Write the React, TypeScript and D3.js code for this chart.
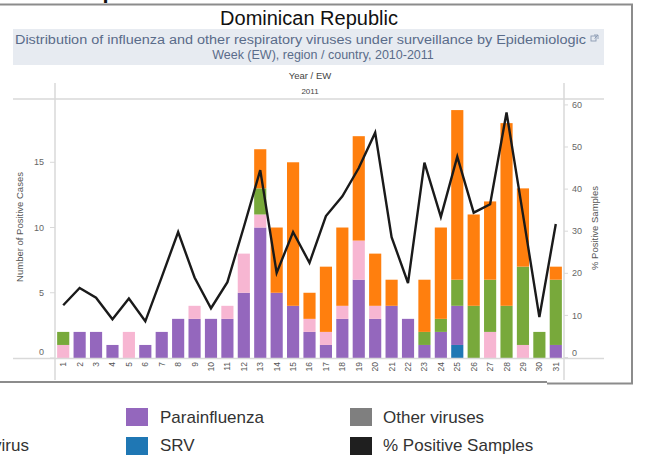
import React from 'react';
import * as d3 from 'd3';

const weeks = ['1','2','3','4','5','6','7','8','9','10','11','12','13','14','15','16','17','18','19','20','21','22','23','24','25','26','27','28','29','30','31'];
const srv =           [0,0,0,0,0,0,0,0,0,0,0,0,0,0,0,0,0,0,0,0,0,0,0,0,1,0,0,0,0,0,0];
const parainfluenza = [0,2,2,1,0,1,2,3,3,3,3,5,10,5,4,2,1,3,6,3,4,3,1,2,3,0,0,0,0,0,1];
const influenzaB =    [1,0,0,0,2,0,0,0,1,0,1,3,1,0,0,1,1,1,3,1,0,0,0,0,0,0,2,0,1,0,0];
const adenovirus =    [1,0,0,0,0,0,0,0,0,0,0,0,2,0,0,0,0,0,0,0,0,0,1,1,2,4,4,4,6,2,5];
const influenzaA =    [0,0,0,0,0,0,0,0,0,0,0,0,3,5,11,2,5,6,8,4,2,0,4,7,13,7,6,14,6,0,1];
const pctPositive = [12.4,16.5,14.2,9.1,14.0,8.6,19.1,29.8,19,11.7,17.9,31,44.5,20.1,29.8,22.5,33.6,38.3,45,53.4,28.6,17.7,46.3,33.4,47.7,34.4,36.4,58.2,34,9.6,31.7];

const leftTicks = [0,5,10,15];
const rightTicks = [0,10,20,30,40,50,60];

const seriesNames = ['SRV','Parainfluenza','Influenza B','Adenovirus','Influenza A'];
const seriesColors = ['#1f77b4','#9467bd','#f7b6d2','#78a93b','#ff7f0e'];

export default function App() {
  const x = d3.scaleBand<string>().domain(weeks).range([55, 564]).paddingInner(0.26).paddingOuter(0.13);
  const yL = d3.scaleLinear().domain([0, 19.85]).range([358, 99]);
  const yR = d3.scaleLinear().domain([0, 61.4]).range([357.5, 99]);

  const table = weeks.map((w, i) => ({
    week: w,
    'SRV': srv[i],
    'Parainfluenza': parainfluenza[i],
    'Influenza B': influenzaB[i],
    'Adenovirus': adenovirus[i],
    'Influenza A': influenzaA[i],
  }));
  const stacked = d3.stack<any>().keys(seriesNames)(table);

  const line = d3.line<number>()
    .x((_, i) => (x(weeks[i]) as number) + x.bandwidth() / 2)
    .y(d => yR(d));

  const gridColor = '#d9d9d9';
  const font = 'Liberation Sans, Arial, sans-serif';

  return (
    <div style={{ position: 'absolute', left: 0, top: 0 }}>
      <svg width={658} height={457} style={{ display: 'block', fontFamily: font }}>
        <rect x={0} y={0} width={658} height={457} fill="#ffffff" />
        {/* cut-off heading fragment */}
        <text x={101.8} y={-3.6} fontSize={34} fill="#111">p</text>
        {/* frame */}
        <line x1={0} y1={4.5} x2={633} y2={4.5} stroke="#8c8c8c" strokeWidth={2} />
        <line x1={632} y1={4} x2={632} y2={384} stroke="#8c8c8c" strokeWidth={2} />
        <line x1={0} y1={382} x2={547} y2={382} stroke="#8c8c8c" strokeWidth={2} />
        <line x1={547} y1={383.5} x2={633} y2={383.5} stroke="#8c8c8c" strokeWidth={2} />

        <text x={309} y={25} fontSize={20} textAnchor="middle" fill="#111">Dominican Republic</text>

        {/* subtitle band */}
        <rect x={13} y={29} width={591} height={36} fill="#e7ebf1" />
        <text x={15} y={44} fontSize={12.5} fill="#5a6c8a" textLength={571} lengthAdjust="spacingAndGlyphs">Distribution of influenza and other respiratory viruses under surveillance by Epidemiologic</text>
        <g stroke="#8a9ab2" strokeWidth={0.9} fill="none">
          <rect x={591} y={36} width={5} height={5} />
          <path d="M594,35 L598,35 L598,39 M598,35 L594.5,38.5" />
        </g>
        <text x={323} y={59} fontSize={12.5} textAnchor="middle" fill="#5a6c8a">Week (EW), region / country, 2010-2011</text>

        <text x={310} y={79} fontSize={9.5} textAnchor="middle" fill="#444">Year  /  EW</text>
        <text x={310} y={94} fontSize={8} textAnchor="middle" fill="#444">2011</text>

        {/* frame lines of the chart */}
        <line x1={13} y1={99} x2={604} y2={99} stroke={gridColor} strokeWidth={1.5} />
        <line x1={55} y1={83} x2={55} y2={380} stroke={gridColor} strokeWidth={1.5} />
        <line x1={564} y1={83} x2={564} y2={380} stroke={gridColor} strokeWidth={1.5} />

        {/* bars */}
        {stacked.map((layer, si) => (
          <g key={seriesNames[si]} fill={seriesColors[si]}>
            {layer.map((d, i) => (d[1] - d[0] > 0 ? (
              <rect key={i} x={x(weeks[i])} y={yL(d[1])} width={x.bandwidth()} height={yL(d[0]) - yL(d[1])} />
            ) : null))}
          </g>
        ))}

        <line x1={13} y1={358.5} x2={604} y2={358.5} stroke={gridColor} strokeWidth={1.5} />

        {/* line */}
        <path d={line(pctPositive) || ''} fill="none" stroke="#1a1a1a" strokeWidth={2.4} strokeLinejoin="miter" />

        {/* left axis */}
        {leftTicks.map(t => (
          <g key={'l' + t}>
            <line x1={50} x2={55} y1={yL(t)} y2={yL(t)} stroke={gridColor} />
            <text x={44} y={t === 0 ? yL(t) - 6 : yL(t)} dy="0.35em" fontSize={9} textAnchor="end" fill="#666">{t}</text>
          </g>
        ))}
        <text transform="translate(23,227) rotate(-90)" fontSize={9.5} textAnchor="middle" fill="#555">Number of Positive Cases</text>

        {/* right axis */}
        {rightTicks.map(t => (
          <g key={'r' + t}>
            <line x1={564} x2={568} y1={yR(t)} y2={yR(t)} stroke={gridColor} />
            <text x={572} y={t === 0 ? yR(t) - 5 : yR(t)} dy="0.35em" fontSize={9} fill="#666">{t}</text>
          </g>
        ))}
        <text transform="translate(598,228) rotate(-90)" fontSize={9.5} textAnchor="middle" fill="#555">% Positive Samples</text>

        {/* week labels */}
        {weeks.map(w => (
          <text key={'w' + w} transform={`translate(${(x(w) as number) + x.bandwidth() / 2},362) rotate(-90)`} dy="0.35em" fontSize={8.5} textAnchor="end" fill="#555">{w}</text>
        ))}

        {/* legend */}
        <text x={29} y={451} fontSize={17} textAnchor="end" fill="#333">Adenovirus</text>
        <rect x={126} y={408} width={22} height={18} fill="#9467bd" />
        <text x={160} y={423} fontSize={17} fill="#333">Parainfluenza</text>
        <rect x={126} y={437} width={22} height={18} fill="#1f77b4" />
        <text x={160} y={451} fontSize={17} fill="#333">SRV</text>
        <rect x={350} y={408} width={22} height={18} fill="#7f7f7f" />
        <text x={383} y={423} fontSize={17} fill="#333">Other viruses</text>
        <rect x={350} y={437} width={22} height={18} fill="#1f1f1f" />
        <text x={383} y={451} fontSize={17} fill="#333">% Positive Samples</text>
      </svg>
    </div>
  );
}
